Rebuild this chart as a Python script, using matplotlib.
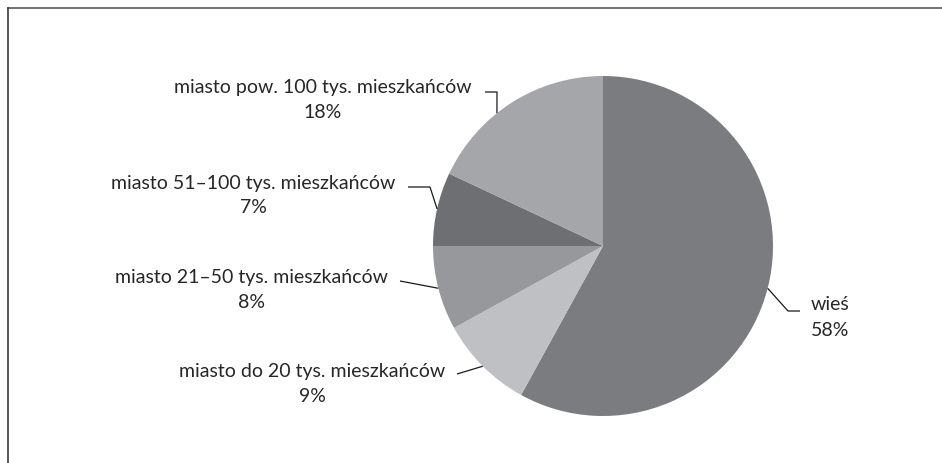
import numpy as np
import matplotlib
matplotlib.use("Agg")
import matplotlib.pyplot as plt
from matplotlib.lines import Line2D

# dane: udział wg miejsca zamieszkania (%)
labels = ["wieś", "miasto do 20 tys. mieszkańców", "miasto 21–50 tys. mieszkańców",
          "miasto 51–100 tys. mieszkańców", "miasto pow. 100 tys. mieszkańców"]
values = [58, 9, 8, 7, 18]
colors = ["#7b7c80", "#bfc0c4", "#97989c", "#6e6f73", "#a5a6aa"]

W, H = 942, 464
plt.rcParams["font.family"] = ["Lato", "DejaVu Sans"]
fig = plt.figure(figsize=(W / 100, H / 100), dpi=100)
ax = fig.add_axes([0, 0, 1, 1])

cx, cy, R = 603, H - 247, 170
wedges, _ = ax.pie(values, colors=colors, startangle=90, counterclock=False,
                   center=(cx, cy), radius=R, wedgeprops=dict(linewidth=0))
ax.set_xlim(0, W); ax.set_ylim(0, H); ax.set_aspect("equal")
ax.axis("off")

# pozycje etykiet (px od góry) i kształt linii odniesienia
txt_pos = [(831, 304, "left"), (312, 372, "center"), (251, 277, "center"),
           (253, 183, "center"), (323, 88, "center")]
lead_ang = [None, None, None, None, 128.6]
elbows = [[(800, 312), (788, 312)], [(457, 375)], [(400, 282)],
          [(408, 188), (430, 188)], [(485, 93), (497, 93)]]
fs = 14

for w, lab, v, (tx, ty, ha), ang, el in zip(wedges, labels, values, txt_pos, lead_ang, elbows):
    a = np.deg2rad(ang if ang is not None else (w.theta1 + w.theta2) / 2)
    px, py = cx + R * np.cos(a), cy + R * np.sin(a)
    xs = [p[0] for p in el] + [px]
    ys = [H - p[1] for p in el] + [py]
    ax.plot(xs, ys, color="#1a1a1a", lw=0.9, solid_capstyle="butt")
    if ha == "left":
        ax.text(811, H - ty, lab, ha="left", va="center", fontsize=fs, color="#262626")
        ax.text(811, H - ty - 27, f"{v}%", ha="left", va="center", fontsize=fs, color="#262626")
    else:
        ax.text(tx, H - ty, lab, ha="center", va="center", fontsize=fs, color="#262626")
        ax.text(tx, H - ty - 25, f"{v}%", ha="center", va="center", fontsize=fs, color="#262626")

# ramka (tylko góra i lewa strona)
fig.add_artist(Line2D([8 / W, 1], [1 - 9 / H, 1 - 9 / H], color="#595959", lw=1.2,
                      transform=fig.transFigure))
fig.add_artist(Line2D([8 / W, 8 / W], [0, 1 - 9 / H], color="#3a3a3a", lw=1.2,
                      transform=fig.transFigure))

fig.savefig("out.png", dpi=100)
